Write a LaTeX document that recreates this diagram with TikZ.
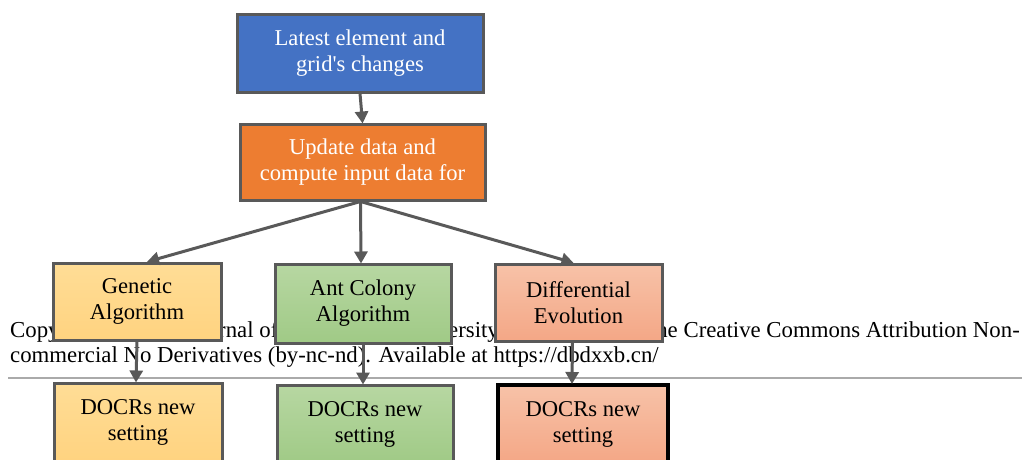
\documentclass[tikz,border=0pt]{standalone}
\usepackage{fontspec}
\setmainfont{Liberation Serif}
\usetikzlibrary{arrows.meta,calc}
\definecolor{edgegray}{HTML}{595959}
\definecolor{blueA}{HTML}{4472C4}
\definecolor{orangeB}{HTML}{ED7D31}
\tikzset{
  box/.style={draw=edgegray, line width=3pt, align=center, inner sep=0pt,
    font=\fontsize{22.6}{26}\selectfont, execute at begin node={\rule{0pt}{25pt}}},
  arr/.style={draw=edgegray, line width=3pt,
    -{Triangle[length=12pt,width=13pt]}, shorten >=-1pt},
  yel/.style={top color={rgb,255:red,255;green,221;blue,150}, bottom color={rgb,255:red,255;green,211;blue,128}},
  grn/.style={top color={rgb,255:red,183;green,215;blue,162}, bottom color={rgb,255:red,160;green,202;blue,134}},
  sal/.style={top color={rgb,255:red,247;green,194;blue,168}, bottom color={rgb,255:red,244;green,167;blue,134}},
  ctext/.style={inner sep=0pt, font=\fontsize{22.8}{25}\selectfont, anchor=base west}
}
\begin{document}
\begin{tikzpicture}[x=1pt,y=-1pt]
\useasboundingbox (0,0) rectangle (1022,459);
\clip (0,0) rectangle (1022,459);
% copyright text
\node[ctext] (c1) at (10,337) {Copy};
\node[ctext] (c2) at (218,337) {rnal of};
\node[ctext] (c3) at (448,337) {ersity};
\node[ctext, anchor=base east] (c4) at (1020,337) {he Creative Commons Attribution Non-};
\node[ctext] (c5) at (10,362) {commercial No Derivatives (by-nc-nd). Available at https://dbdxxb.cn/};
\draw[color={rgb,255:red,170;green,170;blue,170}, line width=1.5pt] (8,378) -- (1022,378);
% boxes
\node[box, fill=blueA, text=white, minimum width=246pt, minimum height=78pt] (A) at (360,53) {Latest element and\\grid\textquotesingle s changes};
\node[box, fill=orangeB, text=white, minimum width=245pt, minimum height=76pt] (B) at (362.5,162) {Update data and\\compute input data for};
\node[box, yel, minimum width=168pt, minimum height=77pt] (G1) at (137,301.5) {Genetic\\Algorithm};
\node[box, grn, minimum width=176pt, minimum height=79pt] (N1) at (363,303.5) {Ant Colony\\Algorithm};
\node[box, sal, minimum width=167pt, minimum height=77pt] (D1) at (578.5,302.5) {Differential\\Evolution};
\node[box, yel, minimum width=168pt, minimum height=78pt] (G2) at (138,422) {DOCRs new\\setting};
\node[box, grn, minimum width=176pt, minimum height=78pt] (N2) at (365,424) {DOCRs new\\setting};
\node[box, sal, draw=black, line width=4pt, minimum width=170pt, minimum height=78pt] (D2) at (583,424) {DOCRs new\\setting};
% arrows
\coordinate (bs) at ($(B.south)+(-2,0)$);
\draw[arr] (A.south) -- (B.north);
\draw[arr] (bs) -- ($(G1.north)+(11,0)$);
\draw[arr] (bs) -- ($(N1.north)+(-2,0)$);
\draw[arr] (bs) -- ($(D1.north)+(-6,0)$);
\draw[arr] (G1.south) -- ($(G2.north)+(-2,0)$);
\draw[arr] (N1.south) -- ($(N2.north)+(-2,0)$);
\draw[arr] ($(D1.south)+(-6,0)$) -- ($(D2.north)+(-11,0)$);
\end{tikzpicture}
\end{document}
